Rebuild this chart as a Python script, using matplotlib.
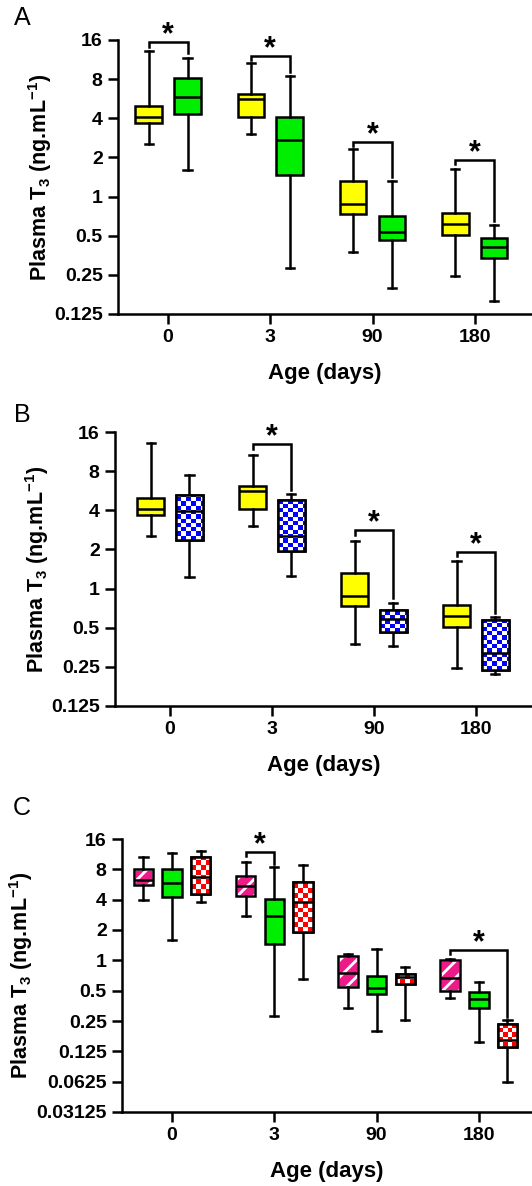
import numpy as np
import matplotlib
matplotlib.use("Agg")
import matplotlib.pyplot as plt
import matplotlib.patches as mpatches

plt.rcParams['font.family'] = ['Liberation Sans', 'DejaVu Sans']
plt.rcParams['mathtext.fontset'] = 'custom'
plt.rcParams['mathtext.rm'] = 'Liberation Sans'
plt.rcParams['mathtext.bf'] = 'Liberation Sans:bold'
plt.rcParams['hatch.linewidth'] = 2.0

ages = ['0', '3', '90', '180']

# box stats per group: whisker low, q1, median, q3, whisker high (ng/mL)
control = {'lo': [2.54, 3.05, 0.373, 0.244],
           'q1': [3.66, 4.07, 0.738, 0.504],
           'med': [4.07, 5.6, 0.875, 0.61],
           'q3': [4.98, 6.2, 1.31, 0.747],
           'hi': [13.2, 10.7, 2.33, 1.63]}
green = {'lo': [1.6, 0.282, 0.199, 0.156],
         'q1': [4.3, 1.46, 0.46, 0.334],
         'med': [5.8, 2.73, 0.533, 0.409],
         'q3': [8.1, 4.07, 0.704, 0.48],
         'hi': [11.7, 8.45, 1.31, 0.603]}
blue = {'lo': [1.23, 1.25, 0.362, 0.22],
        'q1': [2.36, 1.94, 0.46, 0.237],
        'med': [3.95, 2.54, 0.58, 0.317],
        'q3': [5.2, 4.84, 0.683, 0.573],
        'hi': [7.5, 5.3, 0.78, 0.6]}
pink = {'lo': [4.0, 2.74, 0.338, 0.425],
        'q1': [5.55, 4.33, 0.54, 0.495],
        'med': [6.3, 5.43, 0.75, 0.67],
        'q3': [8.1, 6.9, 1.1, 1.0],
        'hi': [10.5, 9.4, 1.16, 1.02]}
red = {'lo': [3.77, 0.655, 0.253, 0.0622],
       'q1': [4.56, 1.92, 0.585, 0.138],
       'med': [6.7, 3.77, 0.68, 0.161],
       'q3': [10.5, 6.0, 0.735, 0.234],
       'hi': [12.1, 8.8, 0.854, 0.253]}

# significance brackets: (age index, left box, right box, bracket level)
sig_a = [(0, 0, 1, 15.5), (1, 0, 1, 12.1), (2, 0, 1, 2.65), (3, 0, 1, 1.92)]
sig_b = [(1, 0, 1, 12.9), (2, 0, 1, 2.82), (3, 0, 1, 1.92)]
sig_c = [(1, 0, 1, 11.8), (3, 0, 2, 1.26)]


def stats_list(g):
    return [dict(whislo=g['lo'][i], q1=g['q1'][i], med=g['med'][i],
                 q3=g['q3'][i], whishi=g['hi'][i], fliers=[])
            for i in range(len(ages))]


def draw_group(ax, g, offset, width, style, color, cell=None):
    pos = np.arange(len(ages)) + offset
    res = ax.bxp(stats_list(g), positions=pos, widths=width, patch_artist=True,
                 showfliers=False, capwidths=0.08,
                 boxprops=dict(linewidth=1.8, edgecolor='black'),
                 whiskerprops=dict(linewidth=1.8),
                 capprops=dict(linewidth=1.8),
                 medianprops=dict(linewidth=1.8, color='black'))
    for i, box in enumerate(res['boxes']):
        if style == 'solid':
            box.set_facecolor(color)
            continue
        if style == 'hatch':
            box.set_facecolor(color)
            box.set_edgecolor('white')
            box.set_hatch('//')
        else:
            box.set_facecolor('white')
            cx, cy = cell
            xe = np.arange(pos[i] - width / 2, pos[i] + width / 2 + cx, cx)
            ye = 2 ** np.arange(np.log2(g['q1'][i]), np.log2(g['q3'][i]) + cy, cy)
            chk = (np.add.outer(np.arange(len(ye) - 1), np.arange(len(xe) - 1)) % 2)
            mesh = ax.pcolormesh(xe, ye, chk, cmap=matplotlib.colors.ListedColormap(['white', color]),
                                 vmin=0, vmax=1, zorder=2.05)
            mesh.set_clip_path(box)
        ax.add_patch(mpatches.PathPatch(box.get_path(), transform=box.get_transform(),
                                        facecolor='none', edgecolor='black',
                                        linewidth=1.8, zorder=2.2))
    return pos


def brackets(ax, sigs, groups, positions):
    for i, a, b, yb in sigs:
        x1, x2 = positions[a][i], positions[b][i]
        yl = yb * 0.92
        yr = groups[b]['hi'][i] * 1.08
        ax.plot([x1, x1, x2, x2], [yl, yb, yb, yr], color='black', lw=1.8,
                clip_on=False, solid_joinstyle='miter')
        ax.annotate('*', xy=((x1 + x2) / 2, yb), xytext=(0, -1),
                    textcoords='offset points', ha='center', va='baseline',
                    fontsize=22, fontweight='bold', annotation_clip=False)


def style_axes(ax, ymin, yticks, xlim, ylpad):
    ax.set_yscale('log', base=2)
    ax.set_ylim(ymin, 16)
    ax.set_xlim(*xlim)
    ax.set_yticks(yticks)
    ax.set_yticklabels([('%g' % t) for t in yticks])
    ax.yaxis.set_minor_locator(matplotlib.ticker.NullLocator())
    ax.set_xticks(range(len(ages)))
    ax.set_xticklabels(ages)
    for s in ['top', 'right']:
        ax.spines[s].set_visible(False)
    for s in ['left', 'bottom']:
        ax.spines[s].set_linewidth(1.8)
    ax.tick_params(direction='out', length=7, width=1.8, labelsize=14, pad=4)
    for lab in ax.get_xticklabels() + ax.get_yticklabels():
        lab.set_fontweight('bold')
    ax.set_xlabel('Age (days)', fontsize=16, fontweight='bold', labelpad=12)
    ax.set_ylabel('Plasma T$_\\mathbf{3}$ (ng.mL$^\\mathbf{-1}$)', fontsize=15.5,
                  fontweight='bold', labelpad=ylpad)


fig = plt.figure(figsize=(5.32, 11.86), dpi=100)
W, H = 532, 1186

# panel A
axA = fig.add_axes([118 / W, 1 - 314 / H, 1 - 118 / W, 274 / H])
pA = [draw_group(axA, control, -0.19, 0.26, 'solid', '#ffff00'),
      draw_group(axA, green, 0.19, 0.26, 'solid', '#00ee00')]
style_axes(axA, 0.125, [0.125, 0.25, 0.5, 1, 2, 4, 8, 16], (-0.49, 3.56), 0)
brackets(axA, sig_a, [control, green], pA)

# panel B
axB = fig.add_axes([115 / W, 1 - 706 / H, 1 - 115 / W, 274 / H])
pB = [draw_group(axB, control, -0.19, 0.26, 'solid', '#ffff00'),
      draw_group(axB, blue, 0.19, 0.26, 'check', '#0000ff', cell=(0.048, 0.11))]
style_axes(axB, 0.125, [0.125, 0.25, 0.5, 1, 2, 4, 8, 16], (-0.54, 3.55), 0)
brackets(axB, sig_b, [control, blue], pB)

# panel C
axC = fig.add_axes([122 / W, 1 - 1112 / H, 1 - 122 / W, 273 / H])
pC = [draw_group(axC, pink, -0.28, 0.19, 'hatch', '#ee1a8a'),
      draw_group(axC, green, 0.0, 0.19, 'solid', '#00ee00'),
      draw_group(axC, red, 0.28, 0.19, 'check', '#ff0000', cell=(0.048, 0.16))]
style_axes(axC, 0.03125, [0.03125, 0.0625, 0.125, 0.25, 0.5, 1, 2, 4, 8, 16], (-0.49, 3.52), 1)
brackets(axC, sig_c, [pink, green, red], pC)

for lab, y in [('A', 18), ('B', 415), ('C', 808)]:
    fig.text(22 / W, 1 - y / H, lab, fontsize=18, ha='center', va='center')

fig.savefig('out.png', dpi=100, facecolor='white')
